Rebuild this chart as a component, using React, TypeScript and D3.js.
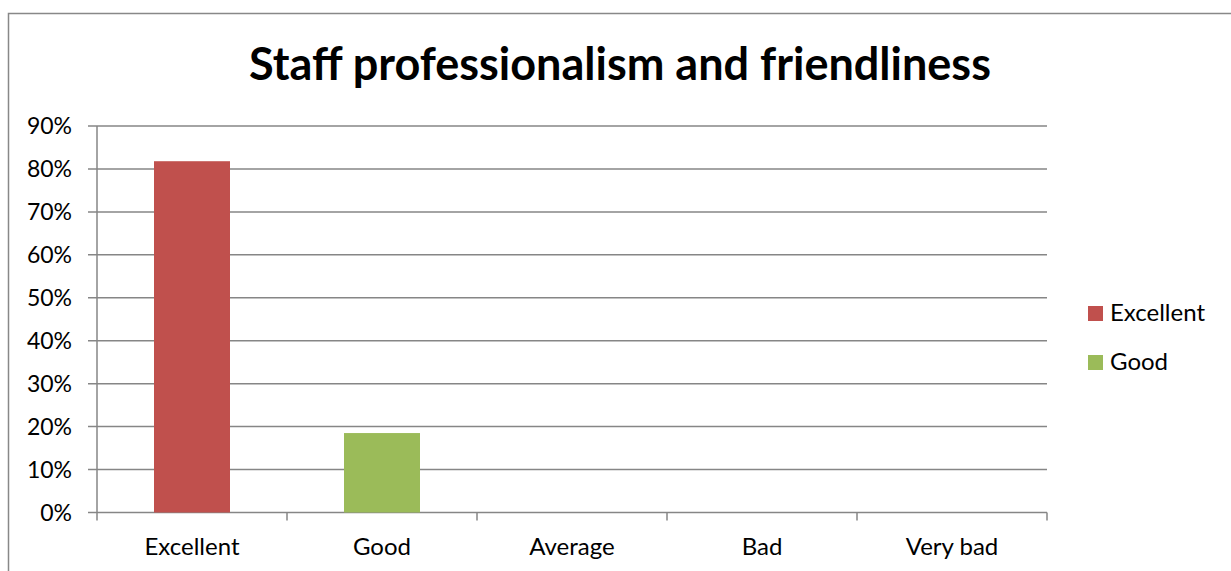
import React from "react";
import * as d3 from "d3";

const categories = ["Excellent", "Good", "Average", "Bad", "Very bad"];
const seriesNames = ["Excellent", "Good"];
const values = [81.8, 18.5, 0, 0, 0];
const barColors = ["#C0504D", "#9BBB59"];
const yTicks = [0, 10, 20, 30, 40, 50, 60, 70, 80, 90];
const title = "Staff professionalism and friendliness";

const W = 1231, H = 571;
const FONT = "Lato, 'Open Sans', sans-serif";

export default function App() {
  const left = 97, right = 1047, top = 126, bottom = 512.5;
  const x = d3.scaleBand<string>().domain(categories).range([left, right]).paddingInner(0.6).paddingOuter(0.3);
  const xb = d3.scaleBand<string>().domain(categories).range([left, right]);
  const y = d3.scaleLinear().domain([0, 90]).range([bottom, top]);
  const grid = "#868686";
  return (
    <svg width={W} height={H} style={{ position: "absolute", left: 0, top: 0 }}>
      <rect x={8.5} y={13.5} width={1240} height={580} fill="#fff" stroke="#888" strokeWidth={1.5} />
      <text x={620} y={80} textAnchor="middle" fontFamily={FONT} fontWeight="bold" fontSize={45} fill="#000">{title}</text>
      {yTicks.map((t) => (
        <g key={t}>
          <line x1={left - 9} x2={right} y1={y(t)} y2={y(t)} stroke={grid} strokeWidth={1.5} />
          <text x={72} y={y(t) + 8} textAnchor="end" fontFamily={FONT} fontSize={23} fill="#000">{t}%</text>
        </g>
      ))}
      <line x1={left} x2={left} y1={top} y2={bottom} stroke={grid} strokeWidth={1.5} />
      {categories.map((c, i) => (
        <line key={"t" + i} x1={xb(c)!} x2={xb(c)!} y1={bottom} y2={bottom + 8} stroke={grid} strokeWidth={1.5} />
      ))}
      <line x1={right} x2={right} y1={bottom} y2={bottom + 8} stroke={grid} strokeWidth={1.5} />
      {categories.map((c, i) =>
        values[i] > 0 ? (
          <rect key={"b" + i} x={x(c)!} width={x.bandwidth()} y={y(values[i])} height={bottom - y(values[i])} fill={barColors[i]} />
        ) : null
      )}
      {categories.map((c, i) => (
        <text key={"l" + i} x={xb(c)! + xb.bandwidth() / 2} y={555} textAnchor="middle" fontFamily={FONT} fontSize={24} fill="#000">{c}</text>
      ))}
      {seriesNames.map((s, i) => (
        <g key={"lg" + i} transform={`translate(1088, ${306 + i * 49})`}>
          <rect x={0} y={0} width={15} height={15} fill={barColors[i]} />
          <text x={22} y={15} fontFamily={FONT} fontSize={24} fill="#000">{s}</text>
        </g>
      ))}
    </svg>
  );
}
